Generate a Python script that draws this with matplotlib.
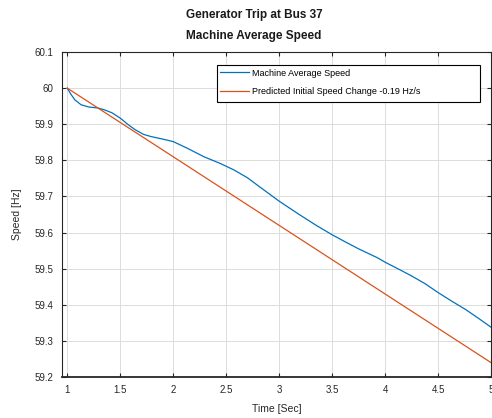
import matplotlib
matplotlib.use("Agg")
import matplotlib.pyplot as plt
from matplotlib.patches import Rectangle

plt.rcParams['font.family'] = ['Liberation Sans', 'DejaVu Sans']

# Data
time_avg = [1.0, 1.03, 1.07, 1.13, 1.2, 1.29, 1.35, 1.42, 1.5, 1.57, 1.64, 1.72,
            1.79, 1.9, 2.0, 2.13, 2.29, 2.44, 2.57, 2.7, 2.81, 3.0, 3.19, 3.35,
            3.5, 3.62, 3.75, 3.93, 4.0, 4.12, 4.25, 4.38, 4.5, 4.63, 4.76, 4.88, 5.0]
speed_avg = [60.0, 59.985, 59.968, 59.954, 59.948, 59.945, 59.94, 59.932, 59.917,
             59.9, 59.885, 59.872, 59.866, 59.859, 59.852, 59.834, 59.81, 59.792,
             59.774, 59.752, 59.728, 59.687, 59.65, 59.62, 59.594, 59.575, 59.555,
             59.53, 59.518, 59.5, 59.48, 59.458, 59.434, 59.41, 59.387, 59.363, 59.338]
time_pred = [1.0, 5.0]
speed_pred = [60.0, 59.24]

xticks = [1, 1.5, 2, 2.5, 3, 3.5, 4, 4.5, 5]
xtick_labels = ['1', '1.5', '2', '2.5', '3', '3.5', '4', '4.5', '5']
yticks = [59.2, 59.3, 59.4, 59.5, 59.6, 59.7, 59.8, 59.9, 60.0, 60.1]
ytick_labels = ['59.2', '59.3', '59.4', '59.5', '59.6', '59.7', '59.8', '59.9', '60', '60.1']

W, H = 492, 418
fig = plt.figure(figsize=(W / 100, H / 100), dpi=100)
ax = fig.add_axes([0.126, 0.098, 0.872, 0.7775])

ax.plot(time_avg, speed_avg, color='#0072BD', lw=0.9, label='Machine Average Speed')
ax.plot(time_pred, speed_pred, color='#D95319', lw=0.9,
        label='Predicted Initial Speed Change -0.19 Hz/s')

ax.set_xlim(0.95, 5.0)
ax.set_ylim(59.2, 60.1)
ax.set_xticks(xticks)
ax.set_xticklabels(xtick_labels)
ax.set_yticks(yticks)
ax.set_yticklabels(ytick_labels)

ax.grid(True, color='#dcdcdc', lw=0.7)
ax.set_axisbelow(True)
ax.tick_params(direction='in', length=3, width=0.8, labelsize=7, colors='#262626',
               top=True, right=True, pad=6)
for s in ax.spines.values():
    s.set_color('#262626')
    s.set_linewidth(0.8)
ax.spines['bottom'].set_linewidth(1.3)

ax.set_xlabel('Time [Sec]', fontsize=7.5, color='#262626', labelpad=6)
ax.set_ylabel('Speed [Hz]', fontsize=7.5, color='#262626', labelpad=9)

fig.text(254 / W, 1 - 15 / H, 'Generator Trip at Bus 37', ha='center', va='center',
         fontsize=8.5, fontweight='bold', color='#1a1a1a')
fig.text(254 / W, 1 - 36 / H, 'Machine Average Speed', ha='center', va='center',
         fontsize=8.5, fontweight='bold', color='#1a1a1a')

# legend box (MATLAB-style, wider than its contents)
box = Rectangle((217 / W, 1 - 102 / H), (480 - 217) / W, (102 - 65) / H,
                transform=fig.transFigure, facecolor='white', edgecolor='black',
                lw=0.8, zorder=5)
fig.patches.append(box)
leg = fig.legend(loc='upper left', bbox_to_anchor=(220 / W, 1 - 68.5 / H), fontsize=6.5,
                 frameon=False, handlelength=3.2, borderpad=0, borderaxespad=0,
                 labelspacing=1.05, handletextpad=0.35)
leg.set_zorder(6)

fig.savefig('out.png', dpi=100)
